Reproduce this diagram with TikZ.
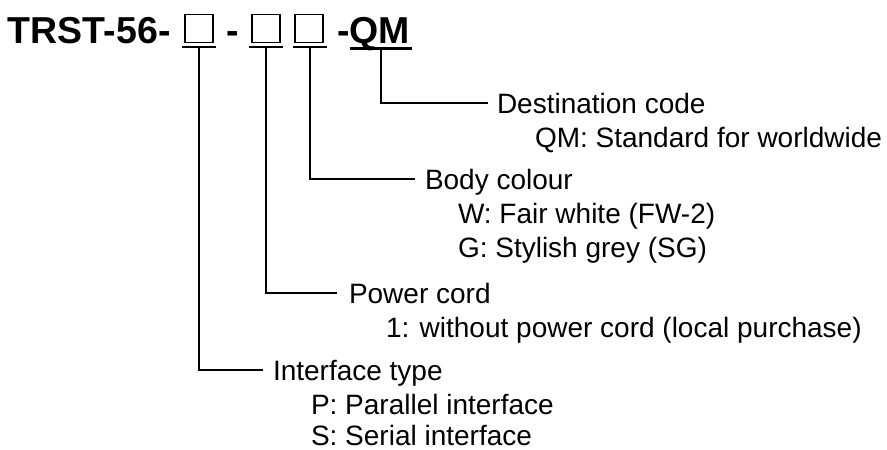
\documentclass[tikz,border=0pt]{standalone}
\usepackage{fontspec}
\setmainfont{Liberation Sans}
\usetikzlibrary{calc}
\begin{document}
\begin{tikzpicture}[x=1pt,y=-1pt,
  every node/.style={inner sep=0pt,outer sep=0pt},
  ttl/.style={font=\fontsize{37.5}{40}\selectfont\bfseries,anchor=base west},
  lab/.style={font=\fontsize{28}{32}\selectfont,anchor=base west},
  slot/.style={draw,line width=1.6pt,minimum width=28pt,minimum height=28pt},
  uline/.style={line width=1.8pt},
  qline/.style={line width=3pt},
  conn/.style={line width=1.6pt}]
\useasboundingbox (0,0) rectangle (887,450);
% title
\node[ttl] (t1) at (8,43) {TRST-56-};
\node[slot] (b1) at (199,28.5) {};
\node[ttl] (d1) at (226,43) {-};
\node[slot] (b2) at (266,28.5) {};
\node[slot] (b3) at (309,28.5) {};
\node[ttl] (d2) at (337,43) {-};
\node[ttl] (qm) at (349,43) {QM};
% underlines
\coordinate (u1a) at (182,47); \coordinate (u1b) at (216,47);
\coordinate (u2a) at (249,47); \coordinate (u2b) at (283,47);
\coordinate (u3a) at (293,47); \coordinate (u3b) at (327,47);
\coordinate (u4a) at (350,48); \coordinate (u4b) at (412,48);
\draw[uline] (u1a) -- (u1b);
\draw[uline] (u2a) -- (u2b);
\draw[uline] (u3a) -- (u3b);
\draw[qline] (u4a) -- (u4b);
% labels
\node[lab] (l4) at (497,113) {Destination code};
\node[lab] (l4a) at (535,147) {QM: Standard for worldwide};
\node[lab] (l3) at (425,189) {Body colour};
\node[lab] (l3a) at (458,223) {W: Fair white (FW-2)};
\node[lab] (l3b) at (458,257) {G: Stylish grey (SG)};
\node[lab] (l2) at (349,303) {Power cord};
\node[lab] (l2a) at (386,337) {1: without power cord (local purchase)};
\node[lab] (l1) at (273,380) {Interface type};
\node[lab] (l1a) at (311,414) {P: Parallel interface};
\node[lab] (l1b) at (311,445) {S: Serial interface};
% connector end points
\coordinate (e4) at (488,103);
\coordinate (e3) at (415,179);
\coordinate (e2) at (337,293);
\coordinate (e1) at (263,370);
\draw[conn] ($(u4a)!0.5!(u4b)$) |- (e4);
\draw[conn] ($(u3a)!0.5!(u3b)$) |- (e3);
\draw[conn] ($(u2a)!0.5!(u2b)$) |- (e2);
\draw[conn] ($(u1a)!0.5!(u1b)$) |- (e1);
\end{tikzpicture}
\end{document}
